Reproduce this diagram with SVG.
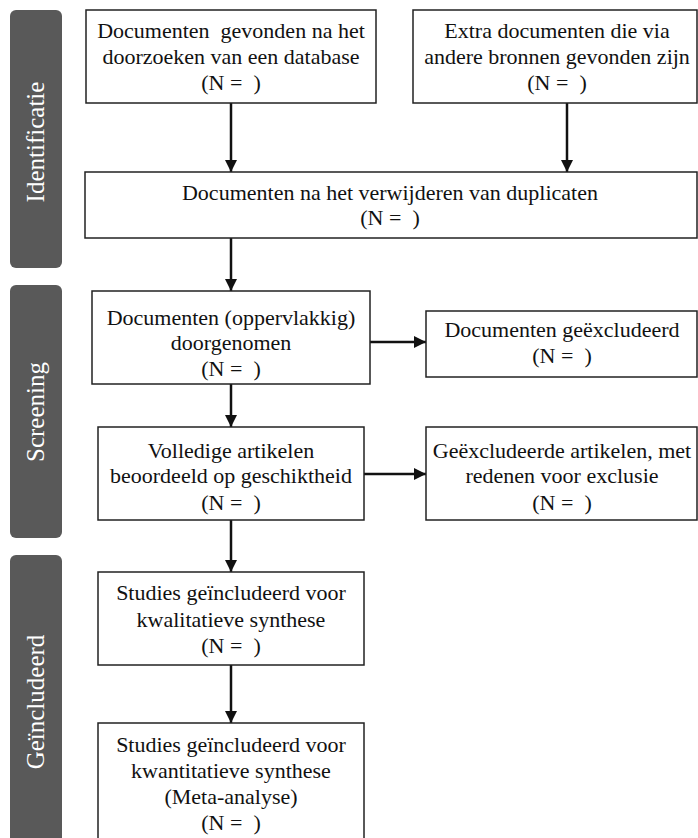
<svg xmlns="http://www.w3.org/2000/svg" width="698" height="838" viewBox="0 0 698 838">
<defs>
<style>
.box{fill:#fff;stroke:#222;stroke-width:1.5}
.t{font-family:"Liberation Serif","DejaVu Serif",serif;font-size:22px;fill:#111;text-anchor:middle}
.side{fill:#595959}
.st{font-family:"Liberation Serif","DejaVu Serif",serif;font-size:25px;fill:#fff;text-anchor:middle}
.c{stroke:#111;stroke-width:2.5;fill:none;marker-end:url(#ah)}
</style>
<marker id="ah" viewBox="0 0 10 10" refX="10" refY="5" markerWidth="5" markerHeight="5" markerUnits="strokeWidth" orient="auto">
<path d="M0,0 L10,5 L0,10 z" fill="#111"/>
</marker>
</defs>
<rect width="698" height="838" fill="#fff"/>
<g id="lanes">
<g id="lane-identificatie"><rect class="side" x="10" y="10" width="52" height="258" rx="6"/><text class="st" transform="translate(44,142) rotate(-90)">Identificatie</text></g>
<g id="lane-screening"><rect class="side" x="10" y="285" width="52" height="253" rx="6"/><text class="st" transform="translate(44,412) rotate(-90)">Screening</text></g>
<g id="lane-geincludeerd"><rect class="side" x="10" y="555" width="52" height="295" rx="6"/><text class="st" transform="translate(44,702) rotate(-90)">Geïncludeerd</text></g>
</g>
<g id="connectors">
<line class="c" x1="231" y1="103" x2="231" y2="172"/>
<line class="c" x1="567" y1="103" x2="567" y2="172"/>
<line class="c" x1="231" y1="238" x2="231" y2="291"/>
<line class="c" x1="370" y1="342" x2="426" y2="342"/>
<line class="c" x1="231" y1="384" x2="231" y2="427"/>
<line class="c" x1="364" y1="474" x2="426" y2="474"/>
<line class="c" x1="231" y1="520" x2="231" y2="572"/>
<line class="c" x1="231" y1="665" x2="231" y2="723"/>
</g>
<g id="n1"><rect class="box" x="86" y="10" width="290" height="93"/>
<text class="t" x="231" y="38" xml:space="preserve">Documenten  gevonden na het</text>
<text class="t" x="231" y="64">doorzoeken van een database</text>
<text class="t" x="231" y="90" xml:space="preserve">(N =  )</text></g>
<g id="n2"><rect class="box" x="413" y="10" width="284" height="93"/>
<text class="t" x="557" y="38">Extra documenten die via</text>
<text class="t" x="557" y="64">andere bronnen gevonden zijn</text>
<text class="t" x="557" y="90" xml:space="preserve">(N =  )</text></g>
<g id="n3"><rect class="box" x="85" y="172" width="612" height="66"/>
<text class="t" x="390" y="200">Documenten na het verwijderen van duplicaten</text>
<text class="t" x="390" y="225" xml:space="preserve">(N =  )</text></g>
<g id="n4"><rect class="box" x="92" y="291" width="278" height="93"/>
<text class="t" x="231" y="325">Documenten (oppervlakkig)</text>
<text class="t" x="231" y="350">doorgenomen</text>
<text class="t" x="231" y="376" xml:space="preserve">(N =  )</text></g>
<g id="n5"><rect class="box" x="426" y="311" width="271" height="66"/>
<text class="t" x="562" y="337">Documenten geëxcludeerd</text>
<text class="t" x="562" y="363" xml:space="preserve">(N =  )</text></g>
<g id="n6"><rect class="box" x="98" y="427" width="266" height="93"/>
<text class="t" x="231" y="458">Volledige artikelen</text>
<text class="t" x="231" y="483">beoordeeld op geschiktheid</text>
<text class="t" x="231" y="510" xml:space="preserve">(N =  )</text></g>
<g id="n7"><rect class="box" x="426" y="427" width="271" height="93"/>
<text class="t" x="562" y="458">Geëxcludeerde artikelen, met</text>
<text class="t" x="562" y="483">redenen voor exclusie</text>
<text class="t" x="562" y="510" xml:space="preserve">(N =  )</text></g>
<g id="n8"><rect class="box" x="98" y="572" width="266" height="93"/>
<text class="t" x="231" y="600">Studies geïncludeerd voor</text>
<text class="t" x="231" y="627">kwalitatieve synthese</text>
<text class="t" x="231" y="653" xml:space="preserve">(N =  )</text></g>
<g id="n9"><rect class="box" x="98" y="723" width="266" height="125"/>
<text class="t" x="231" y="752">Studies geïncludeerd voor</text>
<text class="t" x="231" y="778">kwantitatieve synthese</text>
<text class="t" x="231" y="804">(Meta-analyse)</text>
<text class="t" x="231" y="830" xml:space="preserve">(N =  )</text></g>
</svg>
